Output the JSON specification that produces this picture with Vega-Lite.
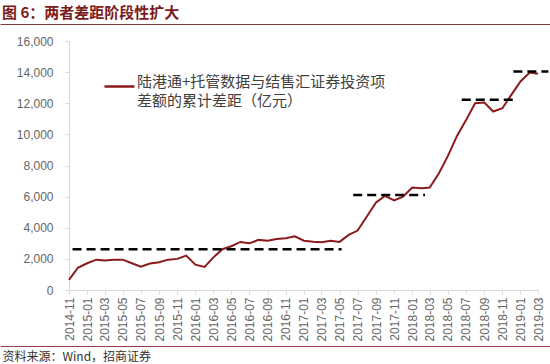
{
  "$schema": "https://vega.github.io/schema/vega-lite/v6.json",
  "width": 469,
  "height": 249,
  "autosize": {"type": "none"},
  "padding": {"left": 69, "top": 41, "right": 12, "bottom": 74},
  "background": "white",
  "config": {
    "view": {"stroke": null},
    "font": "Liberation Sans",
    "style": {"guide-label": {"lineHeight": 19}}
  },
  "title": {
    "text": "图 6：两者差距阶段性扩大",
    "anchor": "start",
    "frame": "group",
    "dx": -67,
    "dy": -3,
    "offset": 0,
    "font": "Noto Sans CJK SC",
    "fontSize": 15,
    "fontWeight": "bold",
    "color": "#7d1a1a"
  },
  "datasets": {
    "series": [
      {"date": "2014-11-01", "value": 650, "series": "gap"},
      {"date": "2014-12-01", "value": 1430, "series": "gap"},
      {"date": "2015-01-01", "value": 1720, "series": "gap"},
      {"date": "2015-02-01", "value": 1950, "series": "gap"},
      {"date": "2015-03-01", "value": 1890, "series": "gap"},
      {"date": "2015-04-01", "value": 1940, "series": "gap"},
      {"date": "2015-05-01", "value": 1950, "series": "gap"},
      {"date": "2015-06-01", "value": 1720, "series": "gap"},
      {"date": "2015-07-01", "value": 1500, "series": "gap"},
      {"date": "2015-08-01", "value": 1700, "series": "gap"},
      {"date": "2015-09-01", "value": 1780, "series": "gap"},
      {"date": "2015-10-01", "value": 1950, "series": "gap"},
      {"date": "2015-11-01", "value": 2000, "series": "gap"},
      {"date": "2015-12-01", "value": 2210, "series": "gap"},
      {"date": "2016-01-01", "value": 1630, "series": "gap"},
      {"date": "2016-02-01", "value": 1480, "series": "gap"},
      {"date": "2016-03-01", "value": 2080, "series": "gap"},
      {"date": "2016-04-01", "value": 2620, "series": "gap"},
      {"date": "2016-05-01", "value": 2810, "series": "gap"},
      {"date": "2016-06-01", "value": 3090, "series": "gap"},
      {"date": "2016-07-01", "value": 3000, "series": "gap"},
      {"date": "2016-08-01", "value": 3220, "series": "gap"},
      {"date": "2016-09-01", "value": 3170, "series": "gap"},
      {"date": "2016-10-01", "value": 3280, "series": "gap"},
      {"date": "2016-11-01", "value": 3330, "series": "gap"},
      {"date": "2016-12-01", "value": 3450, "series": "gap"},
      {"date": "2017-01-01", "value": 3170, "series": "gap"},
      {"date": "2017-02-01", "value": 3100, "series": "gap"},
      {"date": "2017-03-01", "value": 3070, "series": "gap"},
      {"date": "2017-04-01", "value": 3170, "series": "gap"},
      {"date": "2017-05-01", "value": 3090, "series": "gap"},
      {"date": "2017-06-01", "value": 3540, "series": "gap"},
      {"date": "2017-07-01", "value": 3820, "series": "gap"},
      {"date": "2017-08-01", "value": 4720, "series": "gap"},
      {"date": "2017-09-01", "value": 5620, "series": "gap"},
      {"date": "2017-10-01", "value": 6050, "series": "gap"},
      {"date": "2017-11-01", "value": 5750, "series": "gap"},
      {"date": "2017-12-01", "value": 6000, "series": "gap"},
      {"date": "2018-01-01", "value": 6580, "series": "gap"},
      {"date": "2018-02-01", "value": 6540, "series": "gap"},
      {"date": "2018-03-01", "value": 6580, "series": "gap"},
      {"date": "2018-04-01", "value": 7500, "series": "gap"},
      {"date": "2018-05-01", "value": 8600, "series": "gap"},
      {"date": "2018-06-01", "value": 9900, "series": "gap"},
      {"date": "2018-07-01", "value": 10900, "series": "gap"},
      {"date": "2018-08-01", "value": 12000, "series": "gap"},
      {"date": "2018-09-01", "value": 12050, "series": "gap"},
      {"date": "2018-10-01", "value": 11470, "series": "gap"},
      {"date": "2018-11-01", "value": 11680, "series": "gap"},
      {"date": "2018-12-01", "value": 12540, "series": "gap"},
      {"date": "2019-01-01", "value": 13400, "series": "gap"},
      {"date": "2019-02-01", "value": 13975, "series": "gap"},
      {"date": "2019-03-01", "value": 13890, "series": "gap"}
    ],
    "levels": [
      {"start": "2014-11-13", "end": "2017-05-08", "value": 2620},
      {"start": "2017-06-16", "end": "2018-02-13", "value": 6100},
      {"start": "2018-06-17", "end": "2018-12-08", "value": 12220},
      {"start": "2018-12-08", "end": "2019-04-05", "value": 14040}
    ]
  },
  "resolve": {
    "scale": {"x": "independent"},
    "axis": {"x": "independent", "y": "independent"}
  },
  "layer": [
    {
      "data": {"name": "series"},
      "mark": {"type": "line", "strokeWidth": 2, "clip": false},
      "encoding": {
        "x": {
          "field": "date",
          "type": "temporal",
          "scale": {
            "type": "utc",
            "domain": [1414800000000, 1551398400000],
            "nice": false
          },
          "axis": {
            "orient": "bottom",
            "title": "资料来源：Wind，招商证券",
            "titleFont": "Noto Sans CJK SC",
            "titleFontSize": 12,
            "titleFontWeight": "normal",
            "titleColor": "#333333",
            "titleAnchor": "start",
            "titleAlign": "left",
            "titleBaseline": "alphabetic",
            "titleX": -67,
            "titleY": 70,
            "format": "%Y-%m",
            "tickCount": {"interval": "month", "step": 2},
            "labelAngle": 270,
            "labelAlign": "right",
            "labelBaseline": "middle",
            "labelFontSize": 12,
            "labelColor": "#666666",
            "labelPadding": 3,
            "labelOverlap": false,
            "labelFlush": false,
            "grid": false,
            "domainColor": "#d9d9d9",
            "tickColor": "#d9d9d9",
            "tickSize": 4
          }
        },
        "y": {
          "field": "value",
          "type": "quantitative",
          "scale": {"domain": [0, 16000], "nice": false},
          "axis": {
            "title": null,
            "values": [0, 2000, 4000, 6000, 8000, 10000, 12000, 14000, 16000],
            "format": ",.0f",
            "labelOverlap": false,
            "labelFontSize": 12,
            "labelColor": "#666666",
            "labelPadding": 12,
            "grid": false,
            "domainColor": "#d9d9d9",
            "tickColor": "#d9d9d9",
            "tickSize": 4
          }
        },
        "color": {
          "field": "series",
          "type": "nominal",
          "scale": {"range": ["#8b1a1a"]},
          "legend": {
            "orient": "none",
            "legendX": 34,
            "legendY": 29,
            "title": null,
            "padding": 0,
            "symbolType": "stroke",
            "symbolSize": 900,
            "symbolStrokeWidth": 2.5,
            "labelFont": "Noto Sans CJK SC",
            "labelFontSize": 15,
            "labelColor": "#404040",
            "labelLimit": 0,
            "labelOffset": 1,
            "labelBaseline": "alphabetic",
            "labelExpr": "['陆港通+托管数据与结售汇证券投资项', '差额的累计差距（亿元）']"
          }
        }
      }
    },
    {
      "data": {"name": "levels"},
      "mark": {"type": "rule", "color": "#000000", "strokeWidth": 2.5, "strokeDash": [9, 5], "clip": false},
      "encoding": {
        "x": {
          "field": "start",
          "type": "temporal",
          "scale": {
            "type": "utc",
            "domain": [1414800000000, 1551398400000],
            "nice": false
          },
          "axis": null
        },
        "x2": {"field": "end"},
        "y": {"field": "value", "type": "quantitative", "axis": null}
      }
    },
    {
      "data": {"name": "levels"},
      "mark": {"type": "point", "opacity": 0},
      "encoding": {
        "x": {
          "field": "start",
          "type": "temporal",
          "scale": {
            "type": "utc",
            "domain": [1414800000000, 1551398400000],
            "range": [-69, 481],
            "nice": false
          },
          "axis": {
            "orient": "top",
            "offset": 17,
            "domain": true,
            "domainColor": "#8b3a3a",
            "domainWidth": 1,
            "ticks": false,
            "labels": false,
            "grid": false,
            "title": null
          }
        },
        "y": {"field": "value", "type": "quantitative", "axis": null}
      }
    },
    {
      "data": {"name": "levels"},
      "mark": {"type": "point", "opacity": 0},
      "encoding": {
        "x": {
          "field": "start",
          "type": "temporal",
          "scale": {
            "type": "utc",
            "domain": [1414800000000, 1551398400000],
            "range": [-69, 481],
            "nice": false
          },
          "axis": {
            "orient": "bottom",
            "offset": 56,
            "domain": true,
            "domainColor": "#9b3b48",
            "domainWidth": 1,
            "ticks": false,
            "labels": false,
            "grid": false,
            "title": null
          }
        },
        "y": {"field": "value", "type": "quantitative", "axis": null}
      }
    }
  ]
}
